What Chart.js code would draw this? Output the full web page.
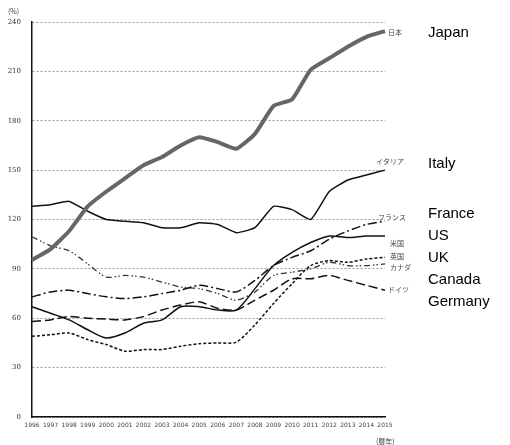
<!DOCTYPE html>
<html>
<head>
<meta charset="utf-8">
<script src="https://cdn.jsdelivr.net/npm/chart.js@4/dist/chart.umd.min.js"></script>
<style>
  html, body { margin: 0; padding: 0; background: #fff; }
  #wrap { position: relative; width: 510px; height: 445px; }
  canvas { position: absolute; left: 0; top: 0; }
  .eng { position: absolute; left: 428px; font-family: "Liberation Sans", Arial, sans-serif; font-size: 15px; line-height: 18px; color: #000; white-space: nowrap; }
</style>
</head>
<body>
<div id="wrap">
  <canvas id="c" width="510" height="445"></canvas>
  <div class="eng" style="top:23px">Japan</div>
  <div class="eng" style="top:154px">Italy</div>
  <div class="eng" style="top:204px">France</div>
  <div class="eng" style="top:226px">US</div>
  <div class="eng" style="top:248px">UK</div>
  <div class="eng" style="top:270px">Canada</div>
  <div class="eng" style="top:292px">Germany</div>
</div>
<script>
const years = ['1996','1997','1998','1999','2000','2001','2002','2003','2004','2005','2006','2007','2008','2009','2010','2011','2012','2013','2014','2015'];
const yTicks = [0, 30, 60, 90, 120, 150, 180, 210, 240];

const japan   = [95.4, 102, 113, 128, 137, 145, 153, 158, 165, 170, 167, 163, 172, 189, 193, 211, 218, 225, 231, 234.5];
const italy   = [128, 129, 131, 125, 120, 119, 118, 115, 115, 118, 117, 112, 115, 128, 126, 120, 137, 144, 147, 150];
const france  = [73, 76, 77, 75, 73, 72, 73, 75, 77, 80, 78, 76, 83, 92, 97, 101, 108, 113, 117, 119];
const us      = [67, 63, 59, 53, 48, 51, 57, 59, 67, 67, 65, 65, 78, 92, 100, 106, 110, 109, 110, 110];
const uk      = [49, 50, 51, 47, 44, 40, 41, 41, 43, 44.5, 45, 45.5, 56, 69, 81, 92, 95, 94, 96, 97];
const canada  = [109.5, 104, 101, 93, 85, 86, 85, 82, 79, 78, 75, 71, 76, 86, 88, 90, 94, 92, 92, 93];
const germany = [58, 59, 61, 60, 59.5, 59, 61, 65, 68, 70, 66, 65, 71, 77, 84, 84, 86, 83, 80, 77];

const jpNames = ['日本', 'イタリア', 'フランス', '米国', '英国', 'カナダ', 'ドイツ'];

function ds(name, data, color, width, dash, tension) {
  return { label: name, data: data, borderColor: color, backgroundColor: color, borderWidth: width,
           borderDash: dash, pointRadius: 0, tension: tension, fill: false };
}

const datasets = [
  ds(jpNames[0], japan, '#666', 4, [], 0.15),
  ds(jpNames[1], italy, '#111', 1.5, [], 0.15),
  ds(jpNames[2], france, '#111', 1.5, [9, 3, 2, 3], 0.25),
  ds(jpNames[3], us, '#111', 1.5, [], 0.25),
  ds(jpNames[4], uk, '#111', 1.5, [3, 2], 0.25),
  ds(jpNames[5], canada, '#333', 1.3, [6, 3, 1.5, 2, 1.5, 3], 0.25),
  ds(jpNames[6], germany, '#111', 1.5, [9, 4], 0.25)
];

// label placement relative to each line's last point: [dx, dy, align]
const labelPlace = [[3, 1, 'left'], [19, -9, 'right'], [21, -4, 'right'], [5, 7, 'left'], [5, -1, 'left'], [5, 3, 'left'], [3, -1, 'left']];

const textPlugin = {
  id: 'texts',
  afterDatasetsDraw(chart) {
    const ctx = chart.ctx;
    ctx.save();
    ctx.fillStyle = '#444';
    ctx.font = '7px "Noto Sans CJK JP", sans-serif';
    ctx.textBaseline = 'middle';
    chart.data.datasets.forEach((d, i) => {
      const meta = chart.getDatasetMeta(i);
      const pt = meta.data[meta.data.length - 1];
      const p = labelPlace[i];
      ctx.textAlign = p[2];
      ctx.fillText(d.label, pt.x + p[0], pt.y + p[1]);
    });
    ctx.font = '7px "Noto Sans CJK JP", sans-serif';
    ctx.textAlign = 'left';
    ctx.fillText('(%)', 8, 11);
    ctx.fillText('(暦年)', 376, 441);
    ctx.restore();
  }
};

new Chart(document.getElementById('c'), {
  type: 'line',
  data: { labels: years, datasets: datasets },
  plugins: [textPlugin],
  options: {
    responsive: false,
    devicePixelRatio: 1,
    animation: false,
    layout: { padding: { left: 0, top: 22, right: 125, bottom: 0 } },
    plugins: { legend: { display: false }, tooltip: { enabled: false } },
    scales: {
      x: {
        offset: false,
        grid: { display: false, drawTicks: false },
        border: { display: true, color: '#111', width: 1.5 },
        ticks: { font: { size: 6, family: 'DejaVu Sans' }, color: '#444', maxRotation: 0, autoSkip: false, padding: 5 },
        afterFit(s) { s.height = 28; }
      },
      y: {
        min: 0, max: 240,
        afterBuildTicks(s) { s.ticks = yTicks.map(v => ({ value: v })); },
        grid: { color: '#999', lineWidth: 1, drawTicks: false },
        border: { display: true, color: '#111', width: 1.5, dash: [2, 2] },
        ticks: { font: { size: 7, family: 'DejaVu Serif' }, color: '#333', padding: 11 },
        afterFit(s) { s.width = 32; }
      }
    }
  }
});
</script>
</body>
</html>
